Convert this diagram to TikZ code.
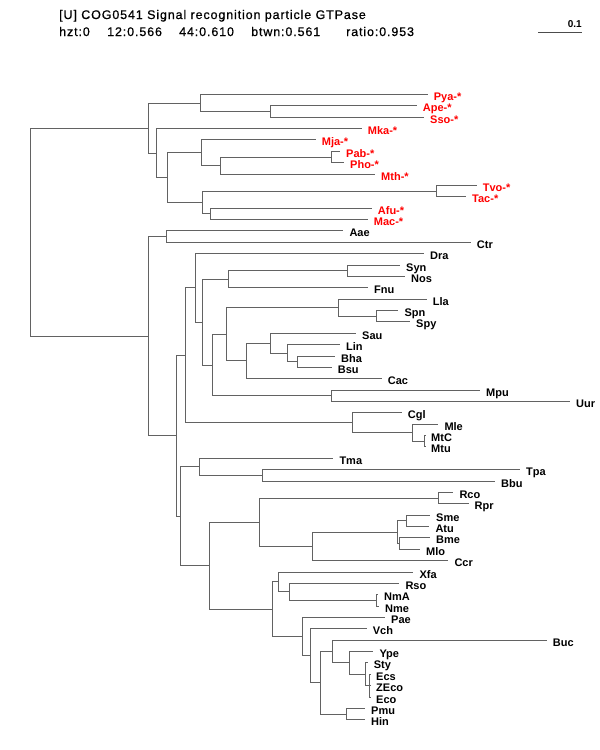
\documentclass[tikz,border=0pt]{standalone}
\usepackage{fontspec}
\setmainfont{Liberation Sans}
\newfontfamily\headfont[LetterSpace=7,FakeBold=0.7]{Liberation Sans}
\usepackage{tikz}

\definecolor{treegray}{RGB}{98,98,98}
\definecolor{archred}{RGB}{255,0,0}

\begin{document}
\begin{tikzpicture}[x=1pt, y=-1pt, every node/.style={inner sep=0pt},
    declare function={rw(\r)=round(94+11.37*\r)+0.5;},
    branch/.style={draw=treegray, line width=1.7pt},
    taxon/.style={anchor=base west, xshift=6pt, yshift=-5.6pt, font=\fontsize{11}{13}\selectfont\bfseries},
    archaeon/.style={taxon, text=archred},
    head/.style={anchor=base west, font=\headfont\fontsize{12.5}{15}\selectfont}]
	\useasboundingbox (0,0) rectangle (600,750);
	% header
	\node[head] (title) at (59,19) {[U] COG0541 Signal recognition particle GTPase};
	\node[head] (hzt) at (59,36) {hzt:0};
	\node[head] (twelve) at (107,36) {12:0.566};
	\node[head] (fortyfour) at (179,36) {44:0.610};
	\node[head] (btwn) at (251,36) {btwn:0.561};
	\node[head] (ratio) at (346,36) {ratio:0.953};
	% scale bar
	\coordinate (bar0) at (538,32.5);
	\coordinate (bar1) at (582,32.5);
	\draw[black!70, line width=1.2pt] (bar0) -- (bar1);
	\node[anchor=base east, font=\fontsize{10}{12}\selectfont\bfseries] (barlabel) at (582,27) {0.1};
	% leaves: end of branch, then label (second value = row)
	\path (427.7,{rw(0)}) coordinate (pya) node[archaeon] (tpya) {Pya-*};
	\path (416.7,{rw(1)}) coordinate (ape) node[archaeon] (tape) {Ape-*};
	\path (424,{rw(2)}) coordinate (sso) node[archaeon] (tsso) {Sso-*};
	\path (361.7,{rw(3)}) coordinate (mka) node[archaeon] (tmka) {Mka-*};
	\path (315.7,{rw(4)}) coordinate (mja) node[archaeon] (tmja) {Mja-*};
	\path (340,{rw(5)}) coordinate (pab) node[archaeon] (tpab) {Pab-*};
	\path (344,{rw(6)}) coordinate (pho) node[archaeon] (tpho) {Pho-*};
	\path (375,{rw(7)}) coordinate (mth) node[archaeon] (tmth) {Mth-*};
	\path (476.7,{rw(8)}) coordinate (tvo) node[archaeon] (ttvo) {Tvo-*};
	\path (466,{rw(9)}) coordinate (tac) node[archaeon] (ttac) {Tac-*};
	\path (371.7,{rw(10)}) coordinate (afu) node[archaeon] (tafu) {Afu-*};
	\path (367.7,{rw(11)}) coordinate (mac) node[archaeon] (tmac) {Mac-*};
	\path (343.3,{rw(12)}) coordinate (aae) node[taxon] (taae) {Aae};
	\path (470.7,{rw(13)}) coordinate (ctr) node[taxon] (tctr) {Ctr};
	\path (424,{rw(14)}) coordinate (dra) node[taxon] (tdra) {Dra};
	\path (400,{rw(15)}) coordinate (syn) node[taxon] (tsyn) {Syn};
	\path (405,{rw(16)}) coordinate (nos) node[taxon] (tnos) {Nos};
	\path (368,{rw(17)}) coordinate (fnu) node[taxon] (tfnu) {Fnu};
	\path (426.7,{rw(18)}) coordinate (lla) node[taxon] (tlla) {Lla};
	\path (398.3,{rw(19)}) coordinate (spn) node[taxon] (tspn) {Spn};
	\path (410,{rw(20)}) coordinate (spy) node[taxon] (tspy) {Spy};
	\path (356,{rw(21)}) coordinate (sau) node[taxon] (tsau) {Sau};
	\path (340,{rw(22)}) coordinate (lin) node[taxon] (tlin) {Lin};
	\path (335,{rw(23)}) coordinate (bha) node[taxon] (tbha) {Bha};
	\path (331.7,{rw(24)}) coordinate (bsu) node[taxon] (tbsu) {Bsu};
	\path (381.7,{rw(25)}) coordinate (cac) node[taxon] (tcac) {Cac};
	\path (480,{rw(26)}) coordinate (mpu) node[taxon] (tmpu) {Mpu};
	\path (570,{rw(27)}) coordinate (uur) node[taxon] (tuur) {Uur};
	\path (401.7,{rw(28)}) coordinate (cgl) node[taxon] (tcgl) {Cgl};
	\path (438.3,{rw(29)}) coordinate (mle) node[taxon] (tmle) {Mle};
	\path (425,{rw(30)}) coordinate (mtc) node[taxon] (tmtc) {MtC};
	\path (425,{rw(31)}) coordinate (mtu) node[taxon] (tmtu) {Mtu};
	\path (333.3,{rw(32)}) coordinate (tma) node[taxon] (ttma) {Tma};
	\path (520,{rw(33)}) coordinate (tpa) node[taxon] (ttpa) {Tpa};
	\path (495,{rw(34)}) coordinate (bbu) node[taxon] (tbbu) {Bbu};
	\path (453.3,{rw(35)}) coordinate (rco) node[taxon] (trco) {Rco};
	\path (468.5,{rw(36)}) coordinate (rpr) node[taxon] (trpr) {Rpr};
	\path (430,{rw(37)}) coordinate (sme) node[taxon] (tsme) {Sme};
	\path (429.3,{rw(38)}) coordinate (atu) node[taxon] (tatu) {Atu};
	\path (430,{rw(39)}) coordinate (bme) node[taxon] (tbme) {Bme};
	\path (420,{rw(40)}) coordinate (mlo) node[taxon] (tmlo) {Mlo};
	\path (448.3,{rw(41)}) coordinate (ccr) node[taxon] (tccr) {Ccr};
	\path (413.3,{rw(42)}) coordinate (xfa) node[taxon] (txfa) {Xfa};
	\path (399.3,{rw(43)}) coordinate (rso) node[taxon] (trso) {Rso};
	\path (378,{rw(44)}) coordinate (nma) node[taxon] (tnma) {NmA};
	\path (379,{rw(45)}) coordinate (nme) node[taxon] (tnme) {Nme};
	\path (385,{rw(46)}) coordinate (pae) node[taxon] (tpae) {Pae};
	\path (366.7,{rw(47)}) coordinate (vch) node[taxon] (tvch) {Vch};
	\path (546.7,{rw(48)}) coordinate (buc) node[taxon] (tbuc) {Buc};
	\path (373.3,{rw(49)}) coordinate (ype) node[taxon] (type) {Ype};
	\path (367.7,{rw(50)}) coordinate (sty) node[taxon] (tsty) {Sty};
	\path (370,{rw(51)}) coordinate (ecs) node[taxon] (tecs) {Ecs};
	\path (370,{rw(52)}) coordinate (zeco) node[taxon] (tzeco) {ZEco};
	\path (370,{rw(53)}) coordinate (eco) node[taxon] (teco) {Eco};
	\path (365,{rw(54)}) coordinate (pmu) node[taxon] (tpmu) {Pmu};
	\path (365,{rw(55)}) coordinate (hin) node[taxon] (thin) {Hin};
	% inner nodes
	\coordinate (root) at (30.5,{rw(12.1)});
	\coordinate (arch) at (148.5,{rw(2.953)});
	\coordinate (aone) at (200.5,{rw(0.75)});
	\coordinate (apesso) at (270.5,{rw(1.5)});
	\coordinate (atwo) at (156.5,{rw(5.156)});
	\coordinate (athree) at (167.5,{rw(7.313)});
	\coordinate (afour) at (201.5,{rw(5.125)});
	\coordinate (afive) at (220.5,{rw(6.25)});
	\coordinate (pabpho) at (331.5,{rw(5.5)});
	\coordinate (asix) at (202.5,{rw(9.5)});
	\coordinate (tvotac) at (436.5,{rw(8.5)});
	\coordinate (afumac) at (210.5,{rw(10.5)});
	\coordinate (bact) at (148.5,{rw(21.26)});
	\coordinate (aaectr) at (166.5,{rw(12.5)});
	\coordinate (bone) at (176.5,{rw(30.022)});
	\coordinate (gpos) at (185.5,{rw(22.943)});
	\coordinate (cone) at (195.5,{rw(17.012)});
	\coordinate (ctwo) at (202.5,{rw(20.023)});
	\coordinate (snf) at (228.5,{rw(16.25)});
	\coordinate (synnos) at (347.5,{rw(15.5)});
	\coordinate (cthree) at (212.5,{rw(23.797)});
	\coordinate (cfour) at (226.5,{rw(21.094)});
	\coordinate (llac) at (338.5,{rw(18.75)});
	\coordinate (spnspy) at (376.5,{rw(19.5)});
	\coordinate (cfive) at (246.5,{rw(23.438)});
	\coordinate (csix) at (270.5,{rw(21.875)});
	\coordinate (cseven) at (287.5,{rw(22.75)});
	\coordinate (bhabsu) at (297.5,{rw(23.5)});
	\coordinate (mpuuur) at (331.5,{rw(26.5)});
	\coordinate (actino) at (352.5,{rw(28.875)});
	\coordinate (mlem) at (412.5,{rw(29.75)});
	\coordinate (mtcmtu) at (424.5,{rw(30.5)});
	\coordinate (blow) at (180.5,{rw(37.102)});
	\coordinate (tmac) at (199.5,{rw(32.75)});
	\coordinate (tpabbu) at (262.5,{rw(33.5)});
	\coordinate (proteo) at (209.5,{rw(41.453)});
	\coordinate (alpha) at (259.5,{rw(37.625)});
	\coordinate (rcorpr) at (438.5,{rw(35.5)});
	\coordinate (rhtwo) at (312.5,{rw(39.75)});
	\coordinate (rhizo) at (397.5,{rw(38.5)});
	\coordinate (smeatu) at (406.5,{rw(37.5)});
	\coordinate (bmemlo) at (399.5,{rw(39.5)});
	\coordinate (gam) at (272.5,{rw(45.281)});
	\coordinate (beta) at (278.5,{rw(42.875)});
	\coordinate (rson) at (289.5,{rw(43.75)});
	\coordinate (nmanme) at (376.5,{rw(44.5)});
	\coordinate (paev) at (302.5,{rw(47.688)});
	\coordinate (vche) at (310.5,{rw(49.375)});
	\coordinate (ent) at (320.5,{rw(51.75)});
	\coordinate (bucy) at (332.5,{rw(49)});
	\coordinate (ypes) at (349.5,{rw(50)});
	\coordinate (stye) at (365.5,{rw(51)});
	\coordinate (ecoli) at (369.5,{rw(52)});
	\coordinate (pmuhin) at (346.5,{rw(54.5)});
	% branches
	\draw[branch] (root) |- (arch) (root) |- (bact);
	\draw[branch] (arch) |- (aone) (arch) |- (atwo);
	\draw[branch] (aone) |- (pya) (aone) |- (apesso);
	\draw[branch] (apesso) |- (ape) (apesso) |- (sso);
	\draw[branch] (atwo) |- (mka) (atwo) |- (athree);
	\draw[branch] (athree) |- (afour) (athree) |- (asix);
	\draw[branch] (afour) |- (mja) (afour) |- (afive);
	\draw[branch] (afive) |- (pabpho) (afive) |- (mth);
	\draw[branch] (pabpho) |- (pab) (pabpho) |- (pho);
	\draw[branch] (asix) |- (tvotac) (asix) |- (afumac);
	\draw[branch] (tvotac) |- (tvo) (tvotac) |- (tac);
	\draw[branch] (afumac) |- (afu) (afumac) |- (mac);
	\draw[branch] (bact) |- (aaectr) (bact) |- (bone);
	\draw[branch] (aaectr) |- (aae) (aaectr) |- (ctr);
	\draw[branch] (bone) |- (gpos) (bone) |- (blow);
	\draw[branch] (gpos) |- (cone) (gpos) |- (actino);
	\draw[branch] (cone) |- (dra) (cone) |- (ctwo);
	\draw[branch] (ctwo) |- (snf) (ctwo) |- (cthree);
	\draw[branch] (snf) |- (synnos) (snf) |- (fnu);
	\draw[branch] (synnos) |- (syn) (synnos) |- (nos);
	\draw[branch] (cthree) |- (cfour) (cthree) |- (mpuuur);
	\draw[branch] (cfour) |- (llac) (cfour) |- (cfive);
	\draw[branch] (llac) |- (lla) (llac) |- (spnspy);
	\draw[branch] (spnspy) |- (spn) (spnspy) |- (spy);
	\draw[branch] (cfive) |- (csix) (cfive) |- (cac);
	\draw[branch] (csix) |- (sau) (csix) |- (cseven);
	\draw[branch] (cseven) |- (lin) (cseven) |- (bhabsu);
	\draw[branch] (bhabsu) |- (bha) (bhabsu) |- (bsu);
	\draw[branch] (mpuuur) |- (mpu) (mpuuur) |- (uur);
	\draw[branch] (actino) |- (cgl) (actino) |- (mlem);
	\draw[branch] (mlem) |- (mle) (mlem) |- (mtcmtu);
	\draw[branch] (mtcmtu) |- (mtc) (mtcmtu) |- (mtu);
	\draw[branch] (blow) |- (tmac) (blow) |- (proteo);
	\draw[branch] (tmac) |- (tma) (tmac) |- (tpabbu);
	\draw[branch] (tpabbu) |- (tpa) (tpabbu) |- (bbu);
	\draw[branch] (proteo) |- (alpha) (proteo) |- (gam);
	\draw[branch] (alpha) |- (rcorpr) (alpha) |- (rhtwo);
	\draw[branch] (rcorpr) |- (rco) (rcorpr) |- (rpr);
	\draw[branch] (rhtwo) |- (rhizo) (rhtwo) |- (ccr);
	\draw[branch] (rhizo) |- (smeatu) (rhizo) |- (bmemlo);
	\draw[branch] (smeatu) |- (sme) (smeatu) |- (atu);
	\draw[branch] (bmemlo) |- (bme) (bmemlo) |- (mlo);
	\draw[branch] (gam) |- (beta) (gam) |- (paev);
	\draw[branch] (beta) |- (xfa) (beta) |- (rson);
	\draw[branch] (rson) |- (rso) (rson) |- (nmanme);
	\draw[branch] (nmanme) |- (nma) (nmanme) |- (nme);
	\draw[branch] (paev) |- (pae) (paev) |- (vche);
	\draw[branch] (vche) |- (vch) (vche) |- (ent);
	\draw[branch] (ent) |- (bucy) (ent) |- (pmuhin);
	\draw[branch] (bucy) |- (buc) (bucy) |- (ypes);
	\draw[branch] (ypes) |- (ype) (ypes) |- (stye);
	\draw[branch] (stye) |- (sty) (stye) |- (ecoli);
	\draw[branch] (ecoli) |- (ecs) (ecoli) |- (zeco) (ecoli) |- (eco);
	\draw[branch] (pmuhin) |- (pmu) (pmuhin) |- (hin);
\end{tikzpicture}
\end{document}
